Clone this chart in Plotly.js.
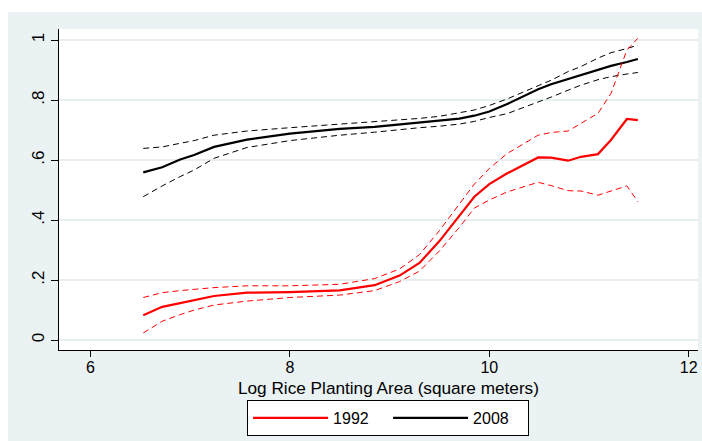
<!DOCTYPE html>
<html>
<head>
<meta charset="utf-8">
<script src="https://cdn.plot.ly/plotly-3.0.1.min.js"></script>
<style>html,body{margin:0;padding:0;background:#fff;}#chart{width:702px;height:441px;}</style>
</head>
<body>
<div id="chart"></div>
<script>
// Log rice planting area (x grid)
const logArea = [6.53, 6.72, 6.9, 7.04, 7.24, 7.57, 8.0, 8.5, 8.85, 9.1, 9.3, 9.5, 9.7, 9.85, 10.0, 10.18, 10.49, 10.62, 10.79, 10.92, 11.09, 11.22, 11.38, 11.49];

// 1992 fitted values and confidence band
const fit1992 = [0.083, 0.111, 0.123, 0.133, 0.147, 0.158, 0.160, 0.166, 0.183, 0.215, 0.257, 0.330, 0.415, 0.478, 0.520, 0.556, 0.609, 0.608, 0.598, 0.611, 0.620, 0.667, 0.737, 0.733];
const upper1992 = [0.142, 0.158, 0.165, 0.170, 0.175, 0.181, 0.181, 0.186, 0.205, 0.237, 0.285, 0.365, 0.455, 0.520, 0.572, 0.622, 0.683, 0.692, 0.697, 0.722, 0.756, 0.822, 0.967, 1.006];
const lower1992 = [0.024, 0.063, 0.085, 0.100, 0.117, 0.130, 0.142, 0.150, 0.165, 0.195, 0.230, 0.297, 0.376, 0.440, 0.467, 0.494, 0.526, 0.515, 0.498, 0.497, 0.483, 0.497, 0.514, 0.461];

// 2008 fitted values and confidence band
const fit2008 = [0.559, 0.576, 0.602, 0.617, 0.644, 0.668, 0.688, 0.704, 0.711, 0.719, 0.725, 0.730, 0.738, 0.748, 0.762, 0.787, 0.836, 0.853, 0.870, 0.885, 0.902, 0.914, 0.927, 0.937];
const upper2008 = [0.639, 0.644, 0.656, 0.665, 0.683, 0.697, 0.708, 0.720, 0.728, 0.733, 0.739, 0.746, 0.757, 0.767, 0.782, 0.804, 0.848, 0.866, 0.895, 0.912, 0.940, 0.958, 0.972, 0.983];
const lower2008 = [0.478, 0.514, 0.545, 0.567, 0.606, 0.642, 0.665, 0.683, 0.693, 0.702, 0.708, 0.713, 0.720, 0.729, 0.742, 0.755, 0.793, 0.810, 0.833, 0.850, 0.868, 0.878, 0.887, 0.892];

// Tick labels and titles
const xTickVals = [6, 8, 10, 12];
const xTickText = ['6', '8', '10', '12'];
const yTickVals = [0, 0.2, 0.4, 0.6, 0.8, 1];
const yTickText = ['0', '.2', '.4', '.6', '.8', '1'];
const xTitle = 'Log Rice Planting Area (square meters)';

const RED = '#ff0000';
const BLACK = '#000000';
const FONT = 'Liberation Sans, Arial, sans-serif';

const traces = [
  {x: logArea, y: fit2008, name: '2008', mode: 'lines', line: {color: BLACK, width: 2.2}, legendrank: 2},
  {x: logArea, y: upper2008, mode: 'lines', showlegend: false, hoverinfo: 'skip', line: {color: BLACK, width: 1, dash: '6px,4px'}},
  {x: logArea, y: lower2008, mode: 'lines', showlegend: false, hoverinfo: 'skip', line: {color: BLACK, width: 1, dash: '6px,4px'}},
  {x: logArea, y: fit1992, name: '1992', mode: 'lines', line: {color: RED, width: 2.2}, legendrank: 1},
  {x: logArea, y: upper1992, mode: 'lines', showlegend: false, hoverinfo: 'skip', line: {color: RED, width: 1, dash: '6px,4px'}},
  {x: logArea, y: lower1992, mode: 'lines', showlegend: false, hoverinfo: 'skip', line: {color: RED, width: 1, dash: '6px,4px'}}
];

const layout = {
  width: 702,
  height: 441,
  paper_bgcolor: '#eaf2f3',
  plot_bgcolor: '#ffffff',
  margin: {l: 59, r: 4, t: 29, b: 91, pad: 0},
  font: {family: FONT, size: 17, color: '#000'},
  showlegend: true,
  xaxis: {
    range: [5.685, 12.093],
    tickmode: 'array', tickvals: xTickVals, ticktext: xTickText,
    ticks: 'outside', ticklen: 6, tickwidth: 1, tickcolor: '#000',
    ticklabelstandoff: -3,
    showline: true, linecolor: '#000', linewidth: 1,
    showgrid: false, zeroline: false,
    tickfont: {size: 16}
  },
  yaxis: {
    range: [-0.033, 1.037],
    tickmode: 'array', tickvals: yTickVals, ticktext: yTickText,
    ticks: 'outside', ticklen: 7, tickwidth: 1, tickcolor: '#000',
    tickangle: -90,
    showline: true, linecolor: '#000', linewidth: 1,
    showgrid: true, gridcolor: '#e6eef0', gridwidth: 1.5,
    zeroline: false,
    tickfont: {size: 17}
  },
  annotations: [
    {text: xTitle, xref: 'paper', yref: 'paper', x: 0.5164, y: -0.1184, xanchor: 'center', yanchor: 'middle', showarrow: false, font: {size: 17.2}}
  ],
  legend: {
    orientation: 'h',
    x: 0.515, xanchor: 'center',
    y: -0.1558, yanchor: 'top',
    bgcolor: '#ffffff', bordercolor: '#000', borderwidth: 1,
    font: {size: 16},
    entrywidth: 50, entrywidthmode: 'pixels',
    itemwidth: 75
  },
  shapes: [
    {type: 'rect', xref: 'paper', yref: 'paper', x0: -0.1, x1: 1.01, y0: 1.053, y1: 1.2, fillcolor: '#ffffff', line: {width: 0}, layer: 'below'},
    {type: 'rect', xref: 'paper', yref: 'paper', x0: -0.1, x1: -0.0798, y0: -0.3, y1: 1.2, fillcolor: '#ffffff', line: {width: 0}, layer: 'below'}
  ]
};

Plotly.newPlot('chart', traces, layout, {displayModeBar: false, staticPlot: true});
</script>
</body>
</html>
